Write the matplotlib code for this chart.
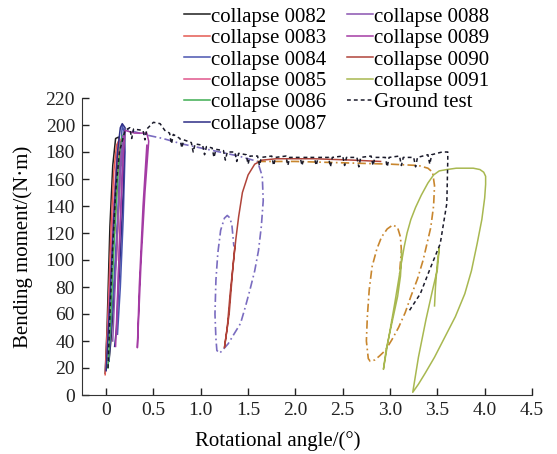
import numpy as np
import matplotlib
matplotlib.use("Agg")
import matplotlib.pyplot as plt

plt.rcParams['font.family'] = ['Liberation Serif', 'DejaVu Serif']

# ---- data (angle in deg, moment in N*m) ----
c0082_x = [-0.01, 0.01, 0.04, 0.07, 0.10, 0.13, 0.15, 0.14, 0.11, 0.08, 0.05, 0.03]
c0082_y = [16, 50, 125, 170, 190, 191, 188, 150, 110, 70, 40, 25]
c0083_x = [-0.01, 0.02, 0.05, 0.08, 0.11, 0.13, 0.12, 0.09]
c0083_y = [15, 60, 120, 165, 185, 188, 160, 120]
c0084_x = [0.03, 0.08, 0.12, 0.15, 0.17, 0.19, 0.20, 0.18, 0.15, 0.12]
c0084_y = [25, 80, 130, 175, 200, 195, 180, 130, 80, 45]
c0085_x = [0.00, 0.03, 0.07, 0.11, 0.14, 0.16, 0.14, 0.11]
c0085_y = [20, 70, 130, 175, 190, 188, 150, 100]
c0086_x = [0.02, 0.05, 0.09, 0.13, 0.17, 0.19, 0.16]
c0086_y = [20, 60, 120, 170, 192, 193, 170]
c0087_x = [0.00, 0.04, 0.08, 0.12, 0.15, 0.17, 0.20, 0.18, 0.14, 0.11, 0.09]
c0087_y = [18, 70, 130, 180, 198, 201, 198, 150, 90, 50, 36]
c0088_x = [0.07, 0.10, 0.13, 0.16, 0.18, 0.17, 0.14, 0.11]
c0088_y = [40, 90, 140, 180, 192, 170, 110, 45]
c0089_x = [0.10, 0.14, 0.18, 0.20, 0.30, 0.43, 0.45, 0.41, 0.37, 0.33, 0.35, 0.39, 0.43]
c0089_y = [36, 110, 175, 196, 194, 194, 188, 150, 100, 35, 80, 140, 185]
c0090_x = [1.36, 1.34, 1.30, 1.25, 1.28, 1.31, 1.34, 1.37, 1.40, 1.44, 1.50, 1.57,
           1.65, 1.80, 2.20, 2.60, 2.90]
c0090_y = [110, 95, 60, 35, 50, 75, 95, 115, 132, 150, 163, 171,
           174, 175, 175, 174, 173]
c0091_x = [3.47, 3.48, 3.50, 3.52, 3.50, 3.45, 3.38, 3.30, 3.24, 3.30, 3.37, 3.47,
           3.58, 3.69, 3.79, 3.86, 3.92, 3.97, 4.00, 4.01, 4.01, 3.99, 3.95, 3.88,
           3.80, 3.70, 3.60, 3.52, 3.46, 3.40, 3.33, 3.27, 3.22, 3.18, 3.15, 3.12,
           3.09, 3.05, 3.01, 2.97, 2.93, 2.96, 3.00, 3.04, 3.08, 3.11, 3.12, 3.12]
c0091_y = [66, 80, 98, 109, 93, 78, 56, 28, 2, 8, 16, 28,
           43, 58, 75, 92, 112, 130, 146, 156, 162, 165, 167, 168,
           168, 168, 167, 166, 163, 157, 148, 139, 130, 120, 110, 98,
           85, 68, 52, 36, 19, 34, 47, 60, 73, 88, 100, 107]

ground_x = [0.02, 0.04, 0.07, 0.10, 0.14, 0.20, 0.25, 0.27, 0.29, 0.39, 0.41, 0.43,
            0.50, 0.57, 0.62, 0.67, 0.69, 0.71, 0.78, 0.80, 0.82, 0.90, 0.92, 0.94,
            1.02, 1.04, 1.06, 1.12, 1.14, 1.16, 1.24, 1.26, 1.28, 1.36, 1.38, 1.40,
            1.48, 1.50, 1.52, 1.60, 1.62, 1.64, 1.75, 1.77, 1.79, 1.90, 1.92, 1.94,
            2.05, 2.07, 2.09, 2.20, 2.22, 2.24, 2.35, 2.37, 2.39, 2.50, 2.52, 2.54,
            2.65, 2.67, 2.69, 2.80, 2.82, 2.84, 2.95, 2.97, 2.99, 3.10, 3.12, 3.14,
            3.25, 3.27, 3.29, 3.40, 3.42, 3.44, 3.55, 3.61, 3.61, 3.60, 3.53, 3.42,
            3.32, 3.19]
ground_y = [20, 60, 110, 150, 180, 196, 198, 190, 197, 196, 189, 197,
            202, 201, 196, 194, 186, 193, 190, 183, 189, 187, 180, 186,
            185, 178, 184, 183, 176, 182, 181, 174, 180, 180, 173, 179,
            178, 171, 177, 177, 170, 176, 177, 170, 176, 177, 170, 176,
            176, 170, 176, 176, 170, 176, 176, 169, 176, 177, 170, 176,
            176, 169, 176, 177, 170, 176, 176, 169, 176, 177, 170, 176,
            176, 169, 176, 178, 171, 178, 180, 180, 174, 142, 112, 93,
            75, 61]

# unlabelled dash-dot curves
simA_x = [0.00, 0.05, 0.12, 0.20, 0.40, 0.60, 0.80, 1.00, 1.20, 1.40, 1.60, 1.65,
          1.66, 1.64, 1.61, 1.57, 1.52, 1.47, 1.42, 1.35, 1.29, 1.24, 1.20, 1.17,
          1.16, 1.15, 1.16, 1.18, 1.21, 1.25, 1.28, 1.31, 1.33, 1.35]
simA_y = [18, 90, 170, 197, 193, 190, 186, 183, 180, 177, 173, 162,
          144, 125, 107, 92, 78, 65, 53, 45, 38, 34, 31, 33,
          42, 60, 85, 105, 122, 131, 133, 131, 125, 110]
simB_x = [1.60, 2.00, 2.50, 3.00, 3.30, 3.40, 3.45, 3.47, 3.46, 3.43, 3.39, 3.35,
          3.29, 3.22, 3.16, 3.09, 3.02, 2.95, 2.89, 2.84, 2.79, 2.77, 2.75, 2.76,
          2.78, 2.81, 2.86, 2.91, 2.97, 3.03, 3.08, 3.11, 3.12, 3.10]
simB_y = [173, 173, 172, 171, 170, 168, 165, 155, 140, 124, 112, 100,
          86, 73, 61, 50, 41, 33, 29, 26, 25, 27, 40, 58,
          78, 95, 108, 117, 123, 126, 124, 117, 107, 90]

labels = ['collapse 0082', 'collapse 0083', 'collapse 0084', 'collapse 0085',
          'collapse 0086', 'collapse 0087', 'collapse 0088', 'collapse 0089',
          'collapse 0090', 'collapse 0091']
xs = [c0082_x, c0083_x, c0084_x, c0085_x, c0086_x, c0087_x, c0088_x, c0089_x, c0090_x, c0091_x]
ys = [c0082_y, c0083_y, c0084_y, c0085_y, c0086_y, c0087_y, c0088_y, c0089_y, c0090_y, c0091_y]
colors = ['#1e1e1e', '#e45a52', '#4a55b0', '#e0568c', '#3fae52', '#2e2e86',
          '#8a54b0', '#a43ca4', '#b0443a', '#a8b850']

fig = plt.figure(figsize=(5.57, 4.54), dpi=100)
ax = fig.add_axes([82/557, 1 - 395/454, (532 - 82)/557, (395 - 98)/454])

ax.plot(simA_x, simA_y, color='#7a6cc0', lw=1.2, ls=(0, (5, 2, 1, 2)), label='_nolegend_')
ax.plot(simB_x, simB_y, color='#c8862e', lw=1.2, ls=(0, (5, 2, 1, 2)), label='_nolegend_')
for x, y, c, lab in zip(xs, ys, colors, labels):
    ax.plot(x, y, color=c, lw=1.1, label=lab)
ax.plot(ground_x, ground_y, color='#1a1a2a', lw=1.1, ls=(0, (2.5, 2)), label='Ground test')

ax.set_xlim(-0.255, 4.5)
ax.set_ylim(0, 220)
ax.set_xticks(np.arange(0, 4.51, 0.5))
ax.set_xticklabels(['0', '0.5', '1.0', '1.5', '2.0', '2.5', '3.0', '3.5', '4.0', '4.5'])
ax.set_yticks(np.arange(0, 221, 20))
ax.spines['top'].set_visible(False)
ax.spines['right'].set_visible(False)
for s in ['left', 'bottom']:
    ax.spines[s].set_color('#333333')
ax.tick_params(direction='in', length=5, width=1, labelsize=14, pad=5, colors='#222222')

ax.set_xlabel('Rotational angle/(°)', fontsize=15)
ax.xaxis.set_label_coords(0.434, -0.12)
ax.set_ylabel('Bending moment/(N·m)', fontsize=15)
ax.yaxis.set_label_coords(-0.108, 0.5)

fig.legend(loc='upper left', bbox_to_anchor=(184/557, 1 - 7/454), ncol=2, frameon=False,
           fontsize=15, handlelength=1.25, handletextpad=0.05, columnspacing=1.0,
           labelspacing=0.09, borderpad=0, borderaxespad=0)

fig.savefig('out.png', dpi=100)
